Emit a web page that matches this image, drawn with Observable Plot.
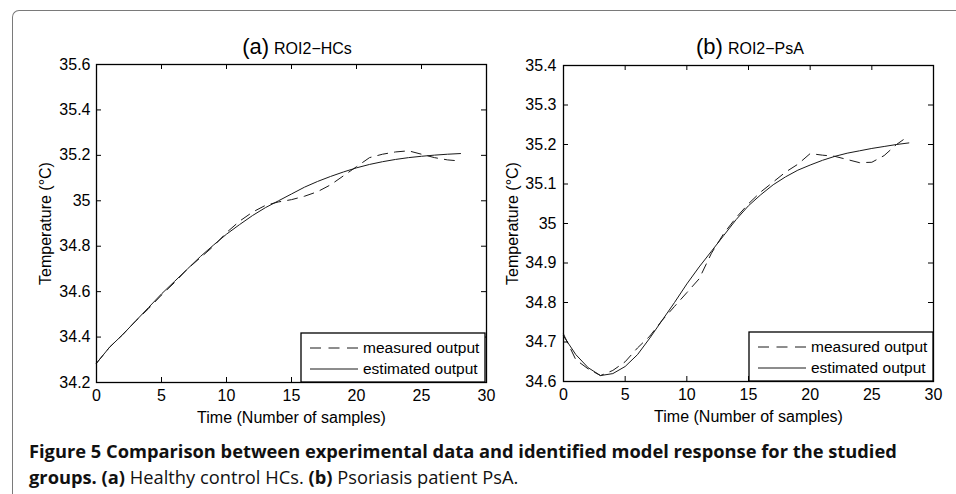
<!DOCTYPE html>
<html><head><meta charset="utf-8">
<script src="https://cdn.jsdelivr.net/npm/d3@7"></script>
<script src="https://cdn.jsdelivr.net/npm/@observablehq/plot@0.6"></script>
<style>
html,body{margin:0;padding:0;background:#fff}
body{width:956px;height:494px;overflow:hidden;position:relative;font-family:"Liberation Sans",Arial,sans-serif}
#border{position:absolute;left:12px;top:10px;width:1000px;height:600px;border-top:1.6px solid #7a7a7a;border-left:1.6px solid #7a7a7a;border-top-left-radius:7px;box-sizing:border-box}
.panel{position:absolute;top:0}
#overlay{position:absolute;left:0;top:0}
#caption{position:absolute;left:29px;top:438px;font-family:"Open Sans",Lato,sans-serif;font-size:18.3px;line-height:26px;color:#111;white-space:nowrap}
#caption b{font-weight:700}
#caption span{font-weight:400}
</style></head>
<body>
<div id="border"></div>
<div id="left" class="panel" style="left:0"></div>
<div id="right" class="panel" style="left:480px"></div>
<svg id="overlay" width="956" height="494"></svg>
<div id="caption"><b>Figure 5 Comparison between experimental data and identified model response for the studied</b><br><b>groups. (a)</b><span> Healthy control HCs. </span><b>(b)</b><span> Psoriasis patient PsA.</span></div>
<script>
// ---- data ----
const samples = [0,1,2,3,4,5,6,7,8,9,10,11,12,13,14,15,16,17,18,19,20,21,22,23,24,25,26,27,28];
const hcsMeasured = [34.285,34.355,34.41,34.47,34.525,34.585,34.64,34.70,34.75,34.80,34.86,34.91,34.95,34.98,34.995,35.005,35.02,35.04,35.07,35.11,35.15,35.19,35.205,35.215,35.22,35.205,35.19,35.18,35.175];
const hcsEstimated = [34.285,34.355,34.41,34.47,34.53,34.59,34.645,34.70,34.755,34.805,34.853,34.895,34.935,34.97,35.00,35.03,35.06,35.085,35.107,35.127,35.145,35.16,35.172,35.182,35.19,35.196,35.201,35.205,35.208];
const psaMeasured = [34.72,34.655,34.632,34.615,34.628,34.65,34.685,34.715,34.755,34.79,34.825,34.86,34.925,34.975,35.015,35.05,35.08,35.105,35.13,35.15,35.177,35.173,35.17,35.162,35.154,35.155,35.172,35.20,35.222];
const psaEstimated = [34.715,34.668,34.635,34.615,34.62,34.638,34.668,34.71,34.755,34.80,34.847,34.89,34.93,34.97,35.01,35.045,35.073,35.098,35.118,35.135,35.148,35.16,35.17,35.178,35.184,35.19,35.195,35.20,35.204];
const xTicks = [0,5,10,15,20,25,30];
const hcsYTicks = [34.2,34.4,34.6,34.8,35,35.2,35.4,35.6];
const psaYTicks = [34.6,34.7,34.8,34.9,35,35.1,35.2,35.3,35.4];
const seriesNames = ["measured output","estimated output"];
const panelTitles = [["(a)","ROI2\u2212HCs"],["(b)","ROI2\u2212PsA"]];
const xLabel = "Time (Number of samples)";
const yLabel = "Temperature (\u00b0C)";

function panel({measured, estimated, yTicks, width, height, mL, mR, mT, mB, yOffset, tp}) {
  const fw = width - mL - mR, fh = height - mT - mB;
  const ink = "#1a1a1a";
  return Plot.plot({
    width, height,
    marginLeft: mL, marginRight: mR, marginTop: mT, marginBottom: mB,
    x: {domain: [0, 30]},
    y: {domain: [yTicks[0], yTicks[yTicks.length - 1]]},
    style: {fontFamily: "'Liberation Sans', Arial, sans-serif", fontSize: "15.5px", color: "#000", background: "transparent", overflow: "visible"},
    marks: [
      Plot.lineY(measured, {x: (d, i) => samples[i], y: d => d, stroke: ink, strokeWidth: 1, strokeDasharray: "10,7"}),
      Plot.lineY(estimated, {x: (d, i) => samples[i], y: d => d, stroke: ink, strokeWidth: 1}),
      Plot.tickX(xTicks, {x: d => d, insetTop: fh - 5, stroke: "#000"}),
      Plot.tickX(xTicks, {x: d => d, insetBottom: fh - 5, stroke: "#000"}),
      Plot.tickY(yTicks, {y: d => d, insetRight: fw - 5, stroke: "#000"}),
      Plot.tickY(yTicks, {y: d => d, insetLeft: fw - 5, stroke: "#000"}),
      Plot.frame({stroke: "#000", strokeWidth: 1.3}),
      Plot.axisX(xTicks, {tickSize: 0, tickPadding: 7, tickFormat: d => String(d), label: xLabel, labelAnchor: "center", labelArrow: "none", labelOffset: 40, fontSize: 16}),
      Plot.axisY(yTicks, {tickSize: 0, tickPadding: tp, tickFormat: d => String(d), label: yLabel, labelAnchor: "center", labelArrow: "none", labelOffset: yOffset, fontSize: 16})
    ]
  });
}

document.getElementById("left").append(panel({measured: hcsMeasured, estimated: hcsEstimated, yTicks: hcsYTicks, width: 500, height: 440, mL: 96, mR: 14, mT: 64, mB: 58, yOffset: 57, tp: 6}));
document.getElementById("right").append(panel({measured: psaMeasured, estimated: psaEstimated, yTicks: psaYTicks, width: 470, height: 440, mL: 83, mR: 17, mT: 65, mB: 59, yOffset: 57, tp: 7}));

// titles and legends (overlay)
const ns = "http://www.w3.org/2000/svg";
const ov = document.getElementById("overlay");
function el(tag, attrs, parent) { const e = document.createElementNS(ns, tag); for (const k in attrs) if (attrs[k] != null) e.setAttribute(k, attrs[k]); (parent || ov).appendChild(e); return e; }
[[297, 54], [750, 54]].forEach(([cx, cy], i) => {
  const t = el("text", {x: cx, y: cy, "text-anchor": "middle", "font-family": "'Liberation Sans', Arial, sans-serif", fill: "#000"});
  const a = el("tspan", {"font-size": 22}, t); a.textContent = panelTitles[i][0];
  const b = el("tspan", {"font-size": 16, dx: 5}, t); b.textContent = panelTitles[i][1];
});
[[301, 333, 184, 49], [749, 332, 184, 49]].forEach(([x, y, w, h]) => {
  const g = el("g", {});
  el("rect", {x, y, width: w, height: h, fill: "#fff", stroke: "#000", "stroke-width": 1.3}, g);
  seriesNames.forEach((name, j) => {
    const cy = y + 15 + j * 21;
    el("line", {x1: x + 9, x2: x + 57, y1: cy, y2: cy, stroke: "#1a1a1a", "stroke-width": 1, "stroke-dasharray": j === 0 ? "11,7.5" : null}, g);
    const t = el("text", {x: x + 62, y: cy + 5, "font-family": "'Liberation Sans', Arial, sans-serif", "font-size": 15.5, fill: "#000"}, g);
    t.textContent = name;
  });
});
</script>
</body></html>
